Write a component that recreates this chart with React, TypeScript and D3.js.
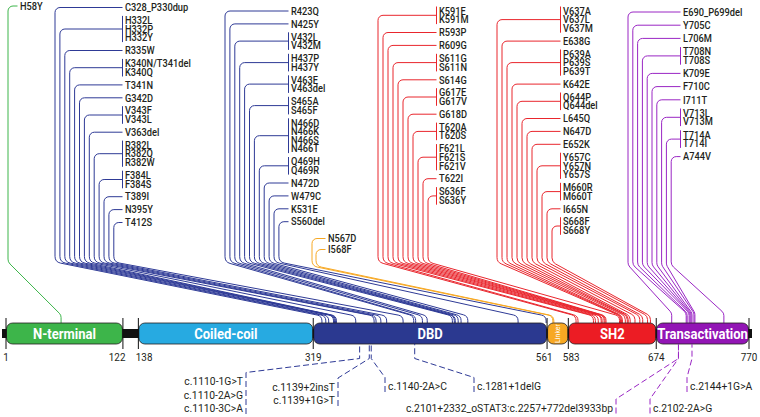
import React from "react";
import * as d3 from "d3";

const W = 760;
const H = 417;

// ---------- data ----------
const domainNames = ["N-terminal", "Coiled-coil", "DBD", "Linker", "SH2", "Transactivation"];
const domainStarts = [1, 138, 319, 561, 583, 674];
const domainEnds = [122, 319, 561, 583, 674, 770];
const tickPositions = [1, 122, 138, 319, 561, 583, 674, 770];

type Group = { pos: number; labels: string[] };

const ntermMutations: Group[] = [{ pos: 58, labels: ["H58Y"] }];

const dbdMutationsA: Group[] = [
  { pos: 328, labels: ["C328_P330dup"] },
  { pos: 332, labels: ["H332L", "H332P", "H332Y"] },
  { pos: 335, labels: ["R335W"] },
  { pos: 340, labels: ["K340N/T341del", "K340Q"] },
  { pos: 341, labels: ["T341N"] },
  { pos: 342, labels: ["G342D"] },
  { pos: 343, labels: ["V343F", "V343L"] },
  { pos: 363, labels: ["V363del"] },
  { pos: 382, labels: ["R382L", "R382Q", "R382W"] },
  { pos: 384, labels: ["F384L", "F384S"] },
  { pos: 389, labels: ["T389I"] },
  { pos: 395, labels: ["N395Y"] },
  { pos: 412, labels: ["T412S"] },
];

const dbdMutationsB: Group[] = [
  { pos: 423, labels: ["R423Q"] },
  { pos: 425, labels: ["N425Y"] },
  { pos: 432, labels: ["V432L", "V432M"] },
  { pos: 437, labels: ["H437P", "H437Y"] },
  { pos: 463, labels: ["V463E", "V463del"] },
  { pos: 465, labels: ["S465A", "S465F"] },
  { pos: 466, labels: ["N466D", "N466K", "N466S", "N466T"] },
  { pos: 469, labels: ["Q469H", "Q469R"] },
  { pos: 472, labels: ["N472D"] },
  { pos: 479, labels: ["W479C"] },
  { pos: 531, labels: ["K531E"] },
  { pos: 560, labels: ["S560del"] },
];

const linkerMutations: Group[] = [
  { pos: 567, labels: ["N567D"] },
  { pos: 568, labels: ["I568F"] },
];

const sh2MutationsA: Group[] = [
  { pos: 591, labels: ["K591E", "K591M"] },
  { pos: 593, labels: ["R593P"] },
  { pos: 609, labels: ["R609G"] },
  { pos: 611, labels: ["S611G", "S611N"] },
  { pos: 614, labels: ["S614G"] },
  { pos: 617, labels: ["G617E", "G617V"] },
  { pos: 618, labels: ["G618D"] },
  { pos: 620, labels: ["T620A", "T620S"] },
  { pos: 621, labels: ["F621L", "F621S", "F621V"] },
  { pos: 622, labels: ["T622I"] },
  { pos: 636, labels: ["S636F", "S636Y"] },
];

const sh2MutationsB: Group[] = [
  { pos: 637, labels: ["V637A", "V637L", "V637M"] },
  { pos: 638, labels: ["E638G"] },
  { pos: 639, labels: ["P639A", "P639S", "P639T"] },
  { pos: 642, labels: ["K642E"] },
  { pos: 644, labels: ["Q644P", "Q644del"] },
  { pos: 645, labels: ["L645Q"] },
  { pos: 647, labels: ["N647D"] },
  { pos: 652, labels: ["E652K"] },
  { pos: 657, labels: ["Y657C", "Y657N", "Y657S"] },
  { pos: 660, labels: ["M660R", "M660T"] },
  { pos: 665, labels: ["I665N"] },
  { pos: 668, labels: ["S668F", "S668Y"] },
];

const transMutations: Group[] = [
  { pos: 690, labels: ["E690_P699del"] },
  { pos: 705, labels: ["Y705C"] },
  { pos: 706, labels: ["L706M"] },
  { pos: 708, labels: ["T708N", "T708S"] },
  { pos: 709, labels: ["K709E"] },
  { pos: 710, labels: ["F710C"] },
  { pos: 711, labels: ["I711T"] },
  { pos: 713, labels: ["V713L", "V713M"] },
  { pos: 714, labels: ["T714A", "T714I"] },
  { pos: 744, labels: ["A744V"] },
];

const spliceSites: Group[] = [
  { pos: 367, labels: ["c.1110-1G>T", "c.1110-2A>G", "c.1110-3C>A"] },
  { pos: 377, labels: ["c.1139+2insT", "c.1139+1G>T"] },
  { pos: 379, labels: ["c.1140-2A>C"] },
  { pos: 424, labels: ["c.1281+1delG"] },
  { pos: 697, labels: ["c.2101+2332_oSTAT3:c.2257+772del3933bp"] },
  { pos: 697, labels: ["c.2102-2A>G"] },
  { pos: 711, labels: ["c.2144+1G>A"] },
];

// ---------- styles / layout ----------
const GREEN = "#3db54a";
const LBLUE = "#27aae1";
const NAVY = "#2b3990";
const ORANGE = "#f7a823";
const RED = "#ec1c24";
const PURPLE = "#9215b5";
const domainColors = [GREEN, LBLUE, NAVY, ORANGE, RED, PURPLE];
const LINE_NAVY = "#2e3a96";
const LINE_RED = "#e9262d";
const LINE_PURPLE = "#9a26c4";

const FONT = "Roboto, 'DejaVu Sans', sans-serif";
const TEXT = "#231f20";

const BAR_TOP = 323;
const BAR_H = 21;

const x = d3.scaleLinear().domain([1, 770]).range([6, 749]);

type ColLayout = {
  data: Group[];
  color: string;
  labelX: number;
  y0: number;
  stemX: number;
  step: number;
  bendY: number;
  approachY: number;
  lineH?: number;
  gap?: number;
};

const columns: ColLayout[] = [
  { data: ntermMutations, color: GREEN, labelX: 20, y0: 6, stemX: 8, step: 5, bendY: 262, approachY: 315 },
  { data: dbdMutationsA, color: LINE_NAVY, labelX: 125, y0: 7.5, stemX: 55, step: 4.9, bendY: 262, approachY: 316 },
  { data: dbdMutationsB, color: LINE_NAVY, labelX: 291, y0: 11, stemX: 225, step: 4.9, bendY: 262, approachY: 316 },
  { data: linkerMutations, color: ORANGE, labelX: 328, y0: 238.5, stemX: 312, step: 4, bendY: 266, approachY: 316, gap: 2.4 },
  { data: sh2MutationsA, color: LINE_RED, labelX: 439, y0: 11, stemX: 378, step: 5, bendY: 262, approachY: 316 },
  { data: sh2MutationsB, color: LINE_RED, labelX: 563, y0: 11, stemX: 497, step: 5, bendY: 262, approachY: 316 },
  { data: transMutations, color: LINE_PURPLE, labelX: 683, y0: 12, stemX: 628, step: 4.8, bendY: 265, approachY: 313, gap: 4.6 },
];

const spliceLayout = [
  { anchor: "end", tx: 243, ty: 381, color: LINE_NAVY },
  { anchor: "end", tx: 335, ty: 386.5, color: LINE_NAVY },
  { anchor: "start", tx: 388, ty: 386, color: LINE_NAVY },
  { anchor: "start", tx: 477, ty: 386, color: LINE_NAVY },
  { anchor: "end", tx: 613, ty: 407.5, color: LINE_PURPLE },
  { anchor: "start", tx: 653, ty: 407.5, color: LINE_PURPLE },
  { anchor: "start", tx: 690, ty: 386, color: LINE_PURPLE },
];

function T({
  x0,
  y0,
  children,
  size,
  weight = 400,
  anchor = "start",
  sx = 0.88,
  fill = TEXT,
}: {
  x0: number;
  y0: number;
  children: React.ReactNode;
  size: number;
  weight?: number;
  anchor?: string;
  sx?: number;
  fill?: string;
}) {
  return (
    <text
      transform={`translate(${x0},${y0}) scale(${sx},1)`}
      dy="0.36em"
      textAnchor={anchor as any}
      fontFamily={FONT}
      fontWeight={weight}
      fontSize={size}
      fill={fill}
    >
      {children}
    </text>
  );
}

function needlePath(x0: number, yMid: number, sx: number, bendY: number, px: number, approachY: number) {
  const p = d3.path();
  p.moveTo(x0, yMid);
  p.arcTo(sx, yMid, sx, bendY, 5);
  p.arcTo(sx, bendY, px, approachY, 7);
  p.arcTo(px, approachY, px, BAR_TOP, 6);
  p.lineTo(px, BAR_TOP);
  return p.toString();
}

function Column({ c }: { c: ColLayout }) {
  const lineH = c.lineH ?? 8.6;
  const gap = c.gap ?? 4.3;
  let line = 0;
  const items = c.data.map((g, gi) => {
    const ys = g.labels.map((_, li) => c.y0 + (line + li) * lineH + gi * gap);
    line += g.labels.length;
    const yMid = (ys[0] + ys[ys.length - 1]) / 2;
    const sx = c.stemX + gi * c.step;
    const px = x(g.pos);
    return { g, ys, yMid, sx, px };
  });
  return (
    <g>
      {items.map((it, i) => (
        <path
          key={"p" + i}
          d={needlePath(c.labelX - 2.5, it.yMid, it.sx, c.bendY, it.px, c.approachY)}
          fill="none"
          stroke={c.color}
          strokeWidth={1}
        />
      ))}
      {items.map((it, i) =>
        it.ys.length > 1 ? (
          <line
            key={"b" + i}
            x1={c.labelX - 2.5}
            x2={c.labelX - 2.5}
            y1={it.ys[0] - 4.5}
            y2={it.ys[it.ys.length - 1] + 4.5}
            stroke={c.color}
            strokeWidth={1}
          />
        ) : null
      )}
      {items.map((it, i) =>
        it.g.labels.map((lab, li) => (
          <T key={"t" + i + "_" + li} x0={c.labelX} y0={it.ys[li]} size={10.3} weight={500} sx={0.9}>
            {lab}
          </T>
        ))
      )}
    </g>
  );
}

function Splice({ g, l }: { g: Group; l: (typeof spliceLayout)[number] }) {
  const spacing = 13.5;
  const ys = g.labels.map((_, i) => l.ty + i * spacing);
  const bx = l.anchor === "end" ? l.tx + 3 : l.tx - 3;
  const top = ys[0] - 8.5;
  const bottom = ys[ys.length - 1] + 6;
  const px = x(g.pos);
  const p = d3.path();
  p.moveTo(bx, bottom);
  p.lineTo(bx, top);
  p.lineTo(px, 358.5);
  p.lineTo(px, BAR_TOP + BAR_H);
  return (
    <g>
      <path d={p.toString()} fill="none" stroke={l.color} strokeWidth={1} strokeDasharray="6,3" />
      {g.labels.map((lab, i) => (
        <T key={i} x0={l.tx} y0={ys[i]} size={11.5} anchor={l.anchor} sx={0.9}>
          {lab}
        </T>
      ))}
    </g>
  );
}

export default function App() {
  const tickX = tickPositions.map((p) => x(p));
  const labelX = tickX.slice();
  for (let i = 0; i < tickX.length - 1; i++) {
    if (tickX[i + 1] - tickX[i] < 27) {
      const mid = (tickX[i] + tickX[i + 1]) / 2;
      labelX[i] = mid - 13.5;
      labelX[i + 1] = mid + 13.5;
    }
  }
  return (
    <svg width={W} height={H} style={{ position: "absolute", left: 0, top: 0, background: "#fff" }}>
      {columns.map((c, i) => (
        <Column key={i} c={c} />
      ))}
      <rect x={x(1) - 4} y={BAR_TOP + 6} width={x(770) - x(1) + 7} height={BAR_H - 12} fill="#111" />
      {domainNames.map((n, i) => {
        const x0 = x(domainStarts[i]);
        const x1 = x(domainEnds[i]);
        const cx = (x0 + x1) / 2;
        const cy = BAR_TOP + BAR_H / 2;
        return (
          <g key={n}>
            <rect
              x={x0 + 0.5}
              y={BAR_TOP}
              width={x1 - x0 - 1}
              height={BAR_H}
              rx={6}
              fill={domainColors[i]}
              stroke="#231f20"
              strokeWidth={0.8}
            />
            {n === "Linker" ? (
              <text
                transform={`translate(${cx},${cy}) rotate(-90)`}
                textAnchor="middle"
                dy="0.35em"
                fontFamily={FONT}
                fontSize={7}
                fill="#fff"
              >
                {n}
              </text>
            ) : (
              <T x0={cx} y0={cy} size={14} weight={700} anchor="middle" sx={0.93} fill="#fff">
                {n}
              </T>
            )}
          </g>
        );
      })}
      {tickPositions.map((p, i) => (
        <g key={p}>
          <line x1={tickX[i]} x2={tickX[i]} y1={318} y2={349} stroke="#111" strokeWidth={1} />
          <T x0={labelX[i]} y0={357} size={11.5} anchor="middle" sx={0.86}>
            {p}
          </T>
        </g>
      ))}
      {spliceSites.map((g, i) => (
        <Splice key={i} g={g} l={spliceLayout[i]} />
      ))}
    </svg>
  );
}
